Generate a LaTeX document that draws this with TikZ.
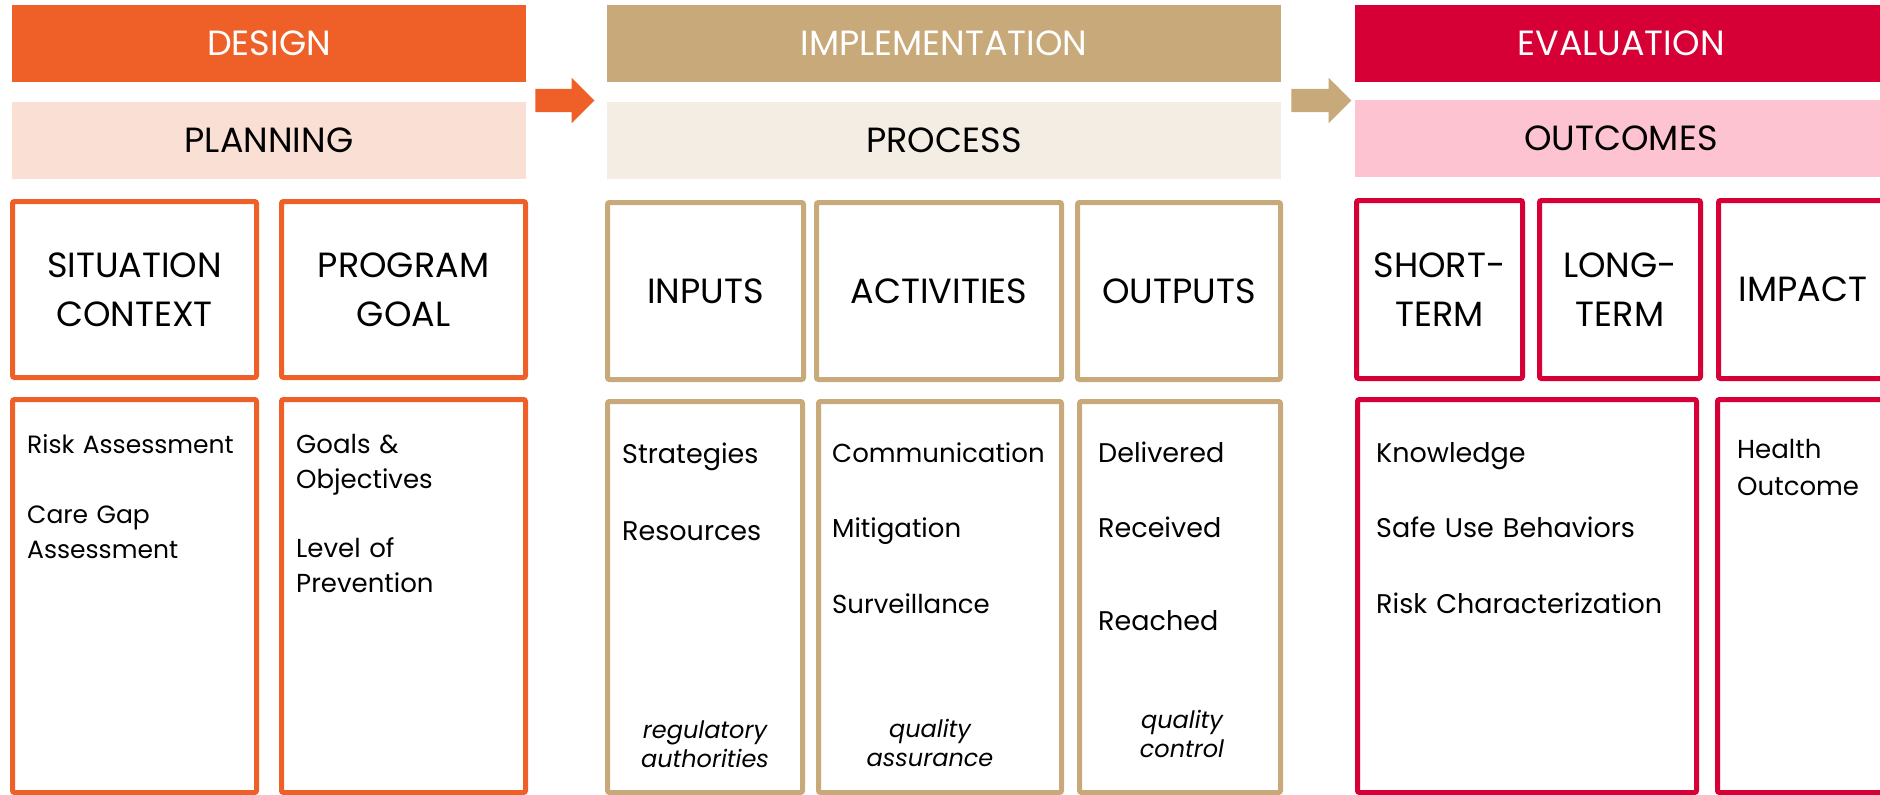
\documentclass[tikz,border=0pt]{standalone}
\usepackage{fontspec}
\setmainfont{Poppins}
\usetikzlibrary{shapes.arrows}
\definecolor{designc}{HTML}{EF5F28}
\definecolor{designl}{HTML}{FADFD4}
\definecolor{implc}{HTML}{C8A97A}
\definecolor{impll}{HTML}{F4EDE3}
\definecolor{evalc}{HTML}{D70036}
\definecolor{evall}{HTML}{FDC3D1}
\tikzset{
  bar_/.style   = {shape=rectangle, inner sep=0pt, minimum height=77pt, text=white},
  band_/.style  = {shape=rectangle, inner sep=0pt, minimum height=77pt},
  head_/.style  = {shape=rectangle, draw, line width=5pt, rounded corners=2pt, inner sep=0pt, align=center, font=\fontsize{35}{49}\selectfont},
  body_/.style  = {shape=rectangle, draw, line width=5pt, rounded corners=2pt, inner sep=0pt},
  list_/.style  = {anchor=base west, inner sep=0pt, text width=400pt, align=left, font=\fontsize{26}{35}\selectfont},
  big_/.style   = {font=\fontsize{27}{35}\selectfont},
  small_/.style = {font=\fontsize{25}{35}\selectfont},
  note_/.style  = {anchor=base, inner sep=0pt, text width=180pt, align=center, font=\fontsize{24}{29}\selectfont\itshape},
  arrow_/.style = {single arrow, single arrow head extend=11pt, inner sep=11.5pt, minimum height=59pt}
}

\begin{document}
\begin{tikzpicture}
  [
    x                 = 1pt,
    y                 = -1pt,
    every node/.style = {font=\fontsize{35}{42}\selectfont}
  ]
  \useasboundingbox (0,0) rectangle (1880,795);
  \clip (0,0) rectangle (1880,795);
  \fill [white] (0,0) rectangle (1880,795);

  \node [bar_, fill=designc, minimum width=514pt] (design) at (269,43.5) {DESIGN};
  \node [band_, fill=designl, minimum width=514pt] (planning) at (269,140.5) {PLANNING};
  \node [head_, draw=designc, minimum width=244pt, minimum height=176pt] (situation) at (134.5,289.5) {SITUATION\\CONTEXT};
  \node [head_, draw=designc, minimum width=244pt, minimum height=176pt] (goal) at (403.5,289.5) {PROGRAM\\GOAL};
  \node [body_, draw=designc, minimum width=244pt, minimum height=393pt] (situation_b) at (134.5,596) {};
  \node [body_, draw=designc, minimum width=244pt, minimum height=393pt] (goal_b) at (403.5,596) {};
  \node [list_, small_] (situation_l) at (27,453) {Risk Assessment\\[35pt]Care Gap\\Assessment};
  \node [list_] (goal_l) at (296,453) {Goals \&\\Objectives\\[34pt]Level of\\Prevention};

  \node [arrow_, fill=designc] (to_impl) at (559,100.5) {};

  \node [bar_, fill=implc, minimum width=674pt] (implementation) at (944,43.5) {IMPLEMENTATION};
  \node [band_, fill=impll, minimum width=674pt] (process) at (944,140.5) {PROCESS};
  \node [head_, draw=implc, minimum width=196pt, minimum height=177pt] (inputs) at (705.5,291) {INPUTS};
  \node [head_, draw=implc, minimum width=245pt, minimum height=177pt] (activities) at (939,291) {ACTIVITIES};
  \node [head_, draw=implc, minimum width=203pt, minimum height=177pt] (outputs) at (1179,291) {OUTPUTS};
  \node [body_, draw=implc, minimum width=195pt, minimum height=391pt] (inputs_b) at (705,597) {};
  \node [body_, draw=implc, minimum width=243pt, minimum height=391pt] (activities_b) at (940,597) {};
  \node [body_, draw=implc, minimum width=201pt, minimum height=391pt] (outputs_b) at (1180,597) {};
  \node [list_, big_] (inputs_l) at (622,463) {Strategies\\[42pt]Resources};
  \node [list_] (activities_l) at (832,462) {Communication\\[40.5pt]Mitigation\\[40.5pt]Surveillance};
  \node [list_, big_] (outputs_l) at (1098,462) {Delivered\\[40pt]Received\\[58pt]Reached};
  \node [note_] (inputs_n) at (705,738) {regulatory\\authorities};
  \node [note_] (activities_n) at (930,737) {quality\\assurance};
  \node [note_] (outputs_n) at (1182,728) {quality\\control};

  \node [arrow_, fill=implc, minimum height=60pt] (to_eval) at (1315.5,100.5) {};

  \node [bar_, fill=evalc, minimum width=532pt] (evaluation) at (1621,43.5) {EVALUATION};
  \node [band_, fill=evall, minimum width=532pt] (outcomes) at (1621,138.5) {OUTCOMES};
  \node [head_, draw=evalc, minimum width=166pt, minimum height=178pt] (short) at (1439.5,289.5) {SHORT-\\TERM};
  \node [head_, draw=evalc, minimum width=161pt, minimum height=178pt] (long) at (1620,289.5) {LONG-\\TERM};
  \node [head_, draw=evalc, minimum width=169pt, minimum height=178pt] (impact) at (1803,289.5) {IMPACT};
  \node [body_, draw=evalc, minimum width=339pt, minimum height=393pt] (term_b) at (1527,596) {};
  \node [body_, draw=evalc, minimum width=175pt, minimum height=393pt] (impact_b) at (1805,596) {};
  \node [list_, big_] (term_l) at (1376,462) {Knowledge\\[40.5pt]Safe Use Behaviors\\[40.5pt]Risk Characterization};
  \node [list_] (impact_l) at (1737,458) {Health\\[2pt]Outcome};
\end{tikzpicture}
\end{document}
